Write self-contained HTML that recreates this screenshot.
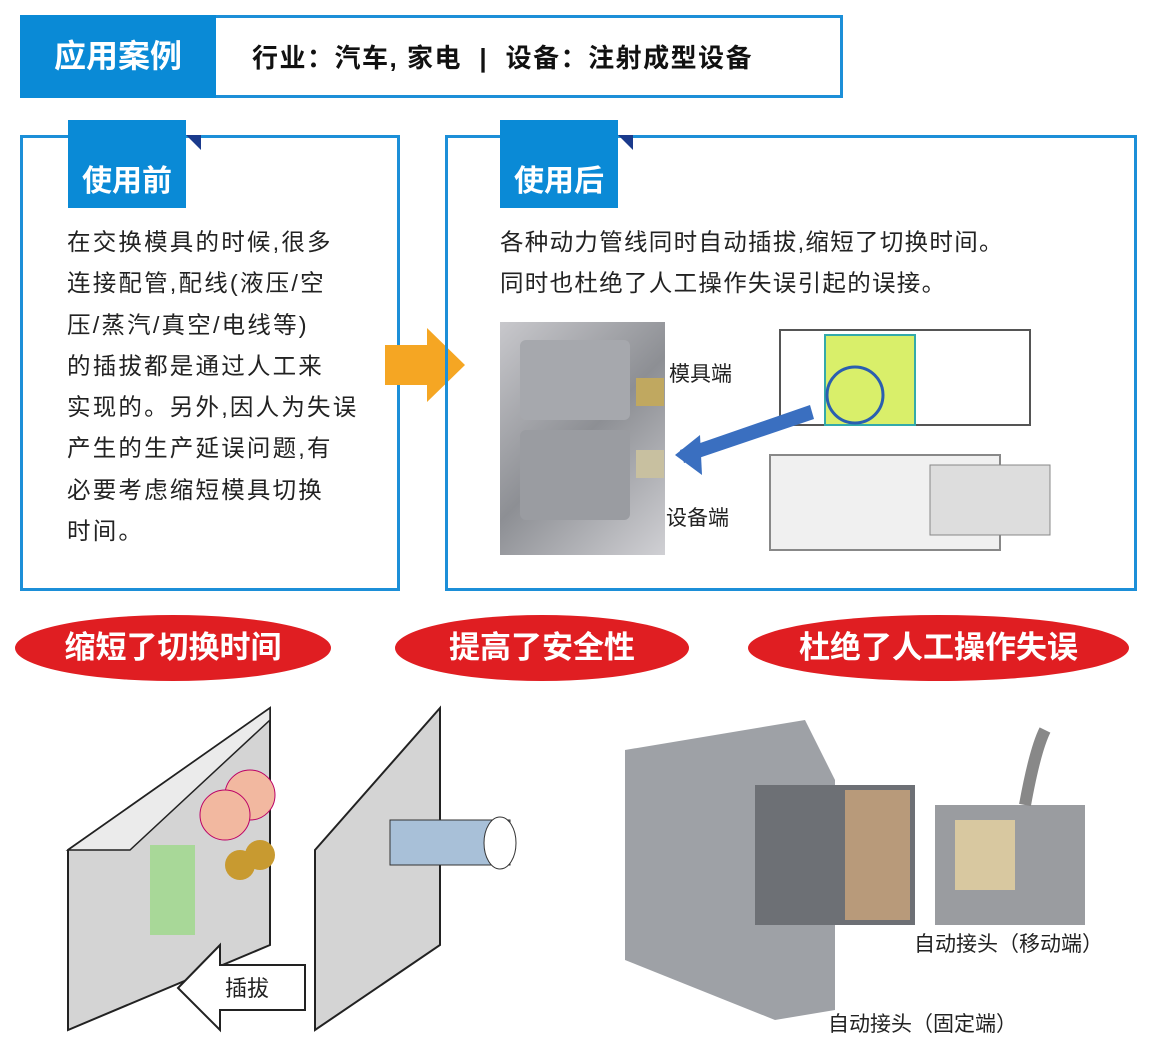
<!DOCTYPE html>
<html><head><meta charset="utf-8"><style>
body{margin:0;width:1154px;height:1050px;background:#fff;position:relative;overflow:hidden;font-family:"Liberation Sans","Noto Sans CJK SC",sans-serif;}
.a{position:absolute}
.box{position:absolute;border:3px solid #1c8fd8;box-sizing:border-box}
.tab{position:absolute;background:#0a8ad6;color:#fff;font-weight:bold;font-size:30px;text-align:center;box-sizing:border-box;padding-top:36px}
.tri{position:absolute;width:0;height:0;border-top:15px solid #1a3a8c;border-left:15px solid transparent}
.txt{position:absolute;font-size:23.5px;line-height:41.3px;color:#222;letter-spacing:2.2px;white-space:nowrap}
.pill{position:absolute;background:#e01e22;border-radius:50%;color:#fff;font-weight:bold;font-size:31px;text-align:center;line-height:66px}
</style></head><body>
<div class="box" style="left:20px;top:15px;width:823px;height:83px"></div>
<div class="a" style="left:20px;top:15px;width:196px;height:83px;background:#0a8ad6;color:#fff;font-weight:bold;font-size:32px;line-height:83px;text-align:center">应用案例</div>
<div class="a" style="left:252px;top:38px;font-size:26px;font-weight:bold;color:#111;letter-spacing:1.5px">行业：汽车, 家电 &nbsp;|&nbsp; 设备：注射成型设备</div>

<div class="box" style="left:20px;top:135px;width:380px;height:456px"></div>
<div class="tab" style="left:68px;top:120px;width:118px;height:88px">使用前</div>
<div class="tri" style="left:186px;top:135px"></div>
<div class="txt" style="left:67px;top:222px">在交换模具的时候,很多<br>连接配管,配线(液压/空<br>压/蒸汽/真空/电线等)<br>的插拔都是通过人工来<br>实现的。另外,因人为失误<br>产生的生产延误问题,有<br>必要考虑缩短模具切换<br>时间。</div>

<svg class="a" style="left:383px;top:328px" width="84" height="74"><polygon points="2,17 44,17 44,0 82,37 44,74 44,57 2,57" fill="#f5a623"/></svg>

<div class="box" style="left:445px;top:135px;width:692px;height:456px"></div>
<div class="tab" style="left:500px;top:120px;width:118px;height:88px">使用后</div>
<div class="tri" style="left:618px;top:135px"></div>
<div class="txt" style="left:500px;top:222px;letter-spacing:1.3px">各种动力管线同时自动插拔,缩短了切换时间。<br>同时也杜绝了人工操作失误引起的误接。</div>

<div class="a" style="left:500px;top:322px;width:165px;height:233px;background:linear-gradient(135deg,#c8c8cc,#8d8f94 50%,#d0d0d4)"></div>
<div class="a" style="left:520px;top:340px;width:110px;height:80px;background:#a6a8ad;border-radius:6px"></div>
<div class="a" style="left:520px;top:430px;width:110px;height:90px;background:#9a9ca1;border-radius:6px"></div>
<div class="a" style="left:636px;top:378px;width:28px;height:28px;background:#c0a860"></div>
<div class="a" style="left:636px;top:450px;width:28px;height:28px;background:#c8c0a0"></div>
<div class="a" style="left:669px;top:358px;font-size:21px;color:#222">模具端</div>
<div class="a" style="left:666px;top:502px;font-size:21px;color:#222">设备端</div>
<svg class="a" style="left:670px;top:315px" width="400" height="245">
<rect x="110" y="15" width="250" height="95" fill="none" stroke="#555" stroke-width="2"/>
<rect x="155" y="20" width="90" height="90" fill="#d9ef6a" stroke="#3aa" stroke-width="2"/>
<circle cx="185" cy="80" r="28" fill="none" stroke="#2a5fb0" stroke-width="3"/>
<polygon points="140,90 10,135 14,148 144,104" fill="#3a6fc0"/>
<polygon points="5,140 30,120 32,160" fill="#3a6fc0"/>
<rect x="100" y="140" width="230" height="95" fill="#f0f0f0" stroke="#888" stroke-width="2"/>
<rect x="260" y="150" width="120" height="70" fill="#ddd" stroke="#888"/>
</svg>

<div class="pill" style="left:15px;top:615px;width:316px;height:66px">缩短了切换时间</div>
<div class="pill" style="left:395px;top:615px;width:294px;height:66px">提高了安全性</div>
<div class="pill" style="left:748px;top:615px;width:381px;height:66px">杜绝了人工操作失误</div>

<svg class="a" style="left:60px;top:700px" width="470" height="340">
<polygon points="8,150 210,8 210,245 8,330" fill="#d4d4d4" stroke="#222" stroke-width="2"/>
<polygon points="8,150 210,8 210,20 70,150" fill="#ebebeb" stroke="#222" stroke-width="1.5"/>
<rect x="90" y="145" width="45" height="90" fill="#a8d898"/>
<circle cx="190" cy="95" r="25" fill="#f2b8a0" stroke="#b06"/>
<circle cx="165" cy="115" r="25" fill="#f2b8a0" stroke="#b06"/>
<circle cx="200" cy="155" r="15" fill="#c89a30"/><circle cx="180" cy="165" r="15" fill="#c89a30"/>
<polygon points="255,150 380,8 380,245 255,330" fill="#d4d4d4" stroke="#222" stroke-width="2"/>
<rect x="330" y="120" width="120" height="45" fill="#a8c0d8" stroke="#333"/>
<ellipse cx="440" cy="143" rx="16" ry="26" fill="#fff" stroke="#333"/>
<polygon points="118,288 160,245 160,265 245,265 245,310 160,310 160,330" fill="#fff" stroke="#222" stroke-width="2"/>
<text x="165" y="296" font-size="22" fill="#222" font-family="Noto Sans CJK SC">插拔</text>
</svg>

<svg class="a" style="left:595px;top:690px" width="510" height="330">
<polygon points="30,60 210,30 240,90 240,320 180,330 30,270" fill="#9ea1a6"/>
<rect x="160" y="95" width="160" height="140" fill="#6d7075"/>
<rect x="250" y="100" width="65" height="130" fill="#b89a7a"/>
<rect x="340" y="115" width="150" height="120" fill="#9a9ca0"/>
<rect x="360" y="130" width="60" height="70" fill="#d8c8a0"/>
<path d="M430 115 Q440 60 450 40" stroke="#888" stroke-width="12" fill="none"/>
</svg>
<div class="a" style="left:914px;top:928px;font-size:21px;color:#222">自动接头（移动端）</div>
<div class="a" style="left:828px;top:1008px;font-size:21px;color:#222">自动接头（固定端）</div>
</body></html>
